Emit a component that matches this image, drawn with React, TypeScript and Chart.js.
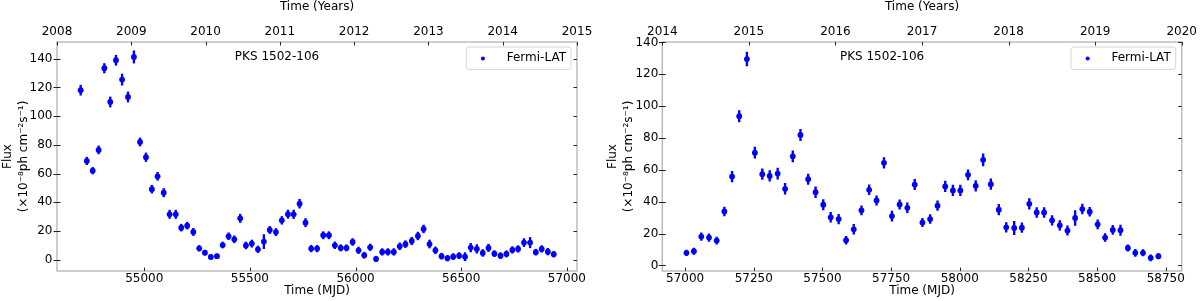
import React, { useEffect, useRef } from "react";
import { Chart, registerables } from "chart.js";

Chart.register(...registerables);

// ---------- texts ----------
const SOURCE_NAME = "PKS 1502-106";
const SERIES_LABEL = "Fermi-LAT";
const X_TITLE = "Time (MJD)";
const TOP_TITLE = "Time (Years)";
const Y_TITLE = ["Flux", "(×10⁻⁸ph cm⁻²s⁻¹)"];

// ---------- left panel data (2008–2014) ----------
const leftMjd = [
  54699, 54728, 54756, 54784, 54811, 54839, 54866, 54895, 54923, 54951,
  54980, 55008, 55036, 55063, 55092, 55120, 55149, 55175, 55203, 55232,
  55260, 55287, 55315, 55344, 55371, 55399, 55426, 55454, 55481, 55509,
  55538, 55566, 55594, 55623, 55651, 55680, 55707, 55735, 55763, 55790,
  55818, 55847, 55874, 55902, 55930, 55957, 55986, 56014, 56041, 56069,
  56097, 56126, 56153, 56181, 56209, 56236, 56266, 56295, 56322, 56350,
  56378, 56407, 56435, 56462, 56490, 56518, 56545, 56574, 56602, 56629,
  56657, 56686, 56714, 56742, 56769, 56797, 56826, 56853, 56881, 56910,
  56938,
];
const leftFlux = [
  118.1, 68.8, 62.0, 76.5, 133.4, 109.9, 139.0, 125.5, 113.4, 141.3,
  82.0, 71.4, 49.1, 58.1, 46.7, 31.6, 31.6, 22.3, 23.7, 19.3,
  7.9, 4.9, 1.9, 2.4, 10.2, 16.3, 14.2, 28.8, 9.9, 11.2,
  7.2, 12.6, 20.7, 19.2, 27.4, 31.7, 31.6, 39.0, 25.8, 7.7,
  7.7, 17.0, 17.0, 10.0, 8.2, 8.2, 12.3, 6.5, 3.1, 8.6,
  0.5, 5.4, 5.4, 5.4, 9.3, 10.8, 13.0, 16.5, 21.4, 10.9,
  6.5, 2.4, 1.0, 2.1, 2.8, 2.1, 8.4, 7.5, 4.7, 8.2,
  4.2, 2.8, 4.0, 6.8, 7.5, 11.9, 11.9, 5.2, 7.5, 5.6,
  3.8,
];
const leftErr = [
  3.5, 2.6, 2.3, 2.8, 3.3, 3.5, 3.5, 3.9, 3.5, 4.3,
  2.8, 3.0, 2.7, 2.8, 2.9, 2.9, 2.9, 2.4, 2.4, 2.5,
  2.0, 1.7, 1.6, 1.5, 2.1, 2.4, 2.4, 2.9, 2.4, 2.5,
  2.3, 4.9, 2.5, 2.5, 2.7, 2.9, 3.0, 3.1, 2.9, 2.3,
  2.3, 2.5, 2.5, 2.4, 2.2, 2.2, 2.4, 2.3, 2.1, 2.3,
  1.9, 2.3, 2.3, 2.3, 2.4, 2.4, 2.6, 2.7, 2.7, 2.8,
  2.4, 2.1, 1.9, 2.1, 2.1, 2.8, 3.0, 3.0, 2.4, 2.6,
  2.1, 2.1, 2.2, 2.3, 2.3, 2.8, 3.6, 2.1, 2.3, 2.3,
  2.0,
];

// ---------- right panel data (2014–2019) ----------
const rightMjd = [
  57005, 57032, 57059, 57087, 57115, 57143, 57171, 57197, 57225, 57254,
  57281, 57308, 57337, 57364, 57392, 57420, 57448, 57475, 57503, 57530,
  57559, 57586, 57614, 57642, 57670, 57697, 57724, 57753, 57781, 57809,
  57836, 57864, 57892, 57919, 57947, 57975, 58002, 58030, 58058, 58085,
  58113, 58142, 58169, 58198, 58226, 58253, 58280, 58307, 58336, 58364,
  58392, 58420, 58446, 58473, 58502, 58529, 58557, 58585, 58612, 58639,
  58667, 58695, 58723,
];
const rightFlux = [
  7.9, 8.9, 18.1, 17.5, 15.6, 33.9, 55.8, 93.7, 129.6, 70.8,
  57.3, 56.2, 57.7, 48.1, 68.5, 81.9, 54.1, 46.0, 38.1, 30.2,
  29.1, 15.8, 22.7, 34.6, 47.5, 40.8, 64.4, 31.0, 38.3, 36.2,
  50.8, 26.9, 29.1, 37.5, 49.6, 47.1, 47.1, 56.9, 50.0, 66.3,
  51.0, 35.0, 23.9, 23.5, 23.7, 38.7, 33.3, 33.3, 28.3, 25.2,
  21.9, 29.8, 35.4, 33.7, 25.8, 17.5, 22.3, 22.1, 11.0, 7.9,
  7.9, 4.8, 5.8,
];
const rightErr = [
  1.7, 2.0, 2.4, 2.4, 2.2, 2.8, 3.3, 3.6, 4.3, 3.5,
  3.3, 3.3, 3.5, 3.4, 3.5, 3.6, 3.3, 3.4, 3.3, 3.1,
  3.0, 2.5, 3.1, 2.9, 3.1, 2.9, 3.3, 3.2, 2.9, 3.1,
  3.3, 2.6, 2.8, 3.0, 3.3, 3.3, 3.3, 3.2, 3.3, 3.75,
  3.3, 3.3, 3.0, 4.2, 3.0, 3.3, 3.1, 3.1, 3.0, 3.0,
  2.9, 4.7, 3.1, 2.8, 2.8, 2.5, 2.8, 3.3, 2.0, 2.2,
  2.0, 1.9, 1.7,
];

// ---------- tick labels ----------
const leftMjdTicks = [55000, 55500, 56000, 56500, 57000];
const leftYearTicks = [2008, 2009, 2010, 2011, 2012, 2013, 2014, 2015];
const rightMjdTicks = [57000, 57250, 57500, 57750, 58000, 58250, 58500, 58750];
const rightYearTicks = [2014, 2015, 2016, 2017, 2018, 2019, 2020];
const fluxTicks = [0, 20, 40, 60, 80, 100, 120, 140];

const BLUE = "#0000ff";
const FONT = "'DejaVu Sans', 'Liberation Sans', sans-serif";

Chart.defaults.font.family = FONT;
Chart.defaults.font.size = 12;
Chart.defaults.color = "#000";

type Panel = {
  mjd: number[];
  flux: number[];
  err: number[];
  mjdTicks: number[];
  yearTicks: number[];
  canvasLeft: number;
  yWidth: number;
  padRight: number;
  xMin: number;
  xMax: number;
  yMin: number;
  yMax: number;
  yTitlePad: number;
  yTickPad: number;
};

const panels: Panel[] = [
  {
    mjd: leftMjd, flux: leftFlux, err: leftErr,
    mjdTicks: leftMjdTicks, yearTicks: leftYearTicks,
    canvasLeft: 0, yWidth: 57, padRight: 23,
    xMin: 54587, xMax: 57048, yMin: -7.9, yMax: 151.7,
    yTitlePad: 0, yTickPad: 4.5,
  },
  {
    mjd: rightMjd, flux: rightFlux, err: rightErr,
    mjdTicks: rightMjdTicks, yearTicks: rightYearTicks,
    canvasLeft: 600, yWidth: 62.3, padRight: 17.3,
    xMin: 56917, xMax: 58808, yMin: -3.5, yMax: 140.3,
    yTitlePad: 5.5, yTickPad: 4,
  },
];

const frameTicksPlugin = {
  id: "frameTicks",
  afterDatasetsDraw(chart: any) {
    const { ctx, chartArea: a, scales } = chart;
    ctx.save();
    ctx.strokeStyle = "#b3b3b3";
    ctx.lineWidth = 1.3;
    ctx.strokeRect(a.left, a.top, a.right - a.left, a.bottom - a.top);
    ctx.strokeStyle = "#222";
    ctx.lineWidth = 1;
    const L = 3.5;
    ctx.beginPath();
    for (const t of scales.y.ticks) {
      const py = Math.round(scales.y.getPixelForValue(t.value)) + 0.5;
      ctx.moveTo(a.left - L, py);
      ctx.lineTo(a.left + L, py);
      ctx.moveTo(a.right - L, py);
      ctx.lineTo(a.right, py);
    }
    for (const t of scales.x.ticks) {
      const px = Math.round(scales.x.getPixelForValue(t.value)) + 0.5;
      ctx.moveTo(px, a.bottom - L);
      ctx.lineTo(px, a.bottom);
    }
    for (const t of scales.xTop.ticks) {
      const px = Math.round(scales.xTop.getPixelForValue(t.value)) + 0.5;
      ctx.moveTo(px, a.top);
      ctx.lineTo(px, a.top + L);
    }
    ctx.stroke();
    ctx.restore();
  },
};

const annotatePlugin = {
  id: "annotate",
  afterDraw(chart: any) {
    const { ctx, chartArea: a } = chart;
    const label = chart.data.datasets[0].label as string;
    ctx.save();
    ctx.font = `12px ${FONT}`;
    // source name
    ctx.fillStyle = "#000";
    ctx.textAlign = "left";
    ctx.textBaseline = "middle";
    ctx.fillText(SOURCE_NAME, a.left + 0.342 * (a.right - a.left), a.top + 15.3);
    // legend box
    const tw = ctx.measureText(label).width;
    const w = tw + 45.5;
    const h = 22.5;
    const x = a.right - 6 - w;
    const y = a.top + 5;
    const r = 3;
    ctx.beginPath();
    ctx.moveTo(x + r, y);
    ctx.lineTo(x + w - r, y);
    ctx.arcTo(x + w, y, x + w, y + r, r);
    ctx.lineTo(x + w, y + h - r);
    ctx.arcTo(x + w, y + h, x + w - r, y + h, r);
    ctx.lineTo(x + r, y + h);
    ctx.arcTo(x, y + h, x, y + h - r, r);
    ctx.lineTo(x, y + r);
    ctx.arcTo(x, y, x + r, y, r);
    ctx.closePath();
    ctx.fillStyle = "rgba(255,255,255,0.8)";
    ctx.fill();
    ctx.strokeStyle = "#d6d6d6";
    ctx.lineWidth = 1;
    ctx.stroke();
    ctx.beginPath();
    ctx.arc(x + 16.7, y + h / 2 + 0.3, 2.0, 0, Math.PI * 2);
    ctx.fillStyle = BLUE;
    ctx.fill();
    ctx.fillStyle = "#000";
    ctx.fillText(label, x + 40.5, y + h / 2 - 0.6);
    ctx.restore();
  },
};

function makeConfig(p: Panel): any {
  const points = p.mjd.map((x, i) => ({ x, y: p.flux[i] }));
  const errBars = p.mjd.map((x, i) => ({ x, y: [p.flux[i] - p.err[i], p.flux[i] + p.err[i]] }));
  const fmt = (v: any) => String(v);
  return {
    type: "scatter",
    data: {
      datasets: [
        {
          type: "scatter",
          label: SERIES_LABEL,
          data: points,
          backgroundColor: BLUE,
          borderColor: BLUE,
          borderWidth: 0,
          pointRadius: 2.9,
          pointHoverRadius: 2.9,
          xAxisID: "x",
          yAxisID: "y",
          order: 0,
        },
        {
          type: "bar",
          label: "error",
          data: errBars,
          backgroundColor: BLUE,
          borderWidth: 0,
          barThickness: 1.7,
          grouped: false,
          xAxisID: "x",
          yAxisID: "y",
          order: 1,
        },
      ],
    },
    options: {
      animation: false,
      responsive: false,
      maintainAspectRatio: false,
      devicePixelRatio: 1,
      events: [],
      layout: { padding: { left: 0, right: p.padRight, top: 0, bottom: 0 } },
      plugins: {
        legend: { display: false },
        tooltip: { enabled: false },
        title: { display: false },
      },
      scales: {
        x: {
          type: "linear",
          position: "bottom",
          min: p.xMin,
          max: p.xMax,
          offset: false,
          grid: { display: false, drawTicks: false },
          border: { display: false },
          ticks: { padding: 0.5, maxRotation: 0, autoSkip: false, callback: fmt, font: { size: 12 } },
          afterBuildTicks: (s: any) => {
            s.ticks = p.mjdTicks.map((v) => ({ value: v }));
          },
          afterFit: (s: any) => {
            s.height = 30;
          },
          title: { display: true, text: X_TITLE, padding: { top: 0, bottom: 2.5 }, font: { size: 12 } },
        },
        xTop: {
          type: "linear",
          axis: "x",
          position: "top",
          min: p.yearTicks[0],
          max: p.yearTicks[p.yearTicks.length - 1],
          offset: false,
          grid: { display: false, drawTicks: false },
          border: { display: false },
          ticks: { padding: 3, maxRotation: 0, autoSkip: false, callback: fmt, font: { size: 12 } },
          afterBuildTicks: (s: any) => {
            s.ticks = p.yearTicks.map((v) => ({ value: v }));
          },
          afterFit: (s: any) => {
            s.height = 42;
          },
          title: { display: true, text: TOP_TITLE, padding: { top: 0.5, bottom: 0 }, font: { size: 12, lineHeight: 1.05 } },
        },
        y: {
          type: "linear",
          position: "left",
          min: p.yMin,
          max: p.yMax,
          grid: { display: false, drawTicks: false },
          border: { display: false },
          ticks: { padding: p.yTickPad, autoSkip: false, callback: fmt, font: { size: 12 } },
          afterBuildTicks: (s: any) => {
            s.ticks = fluxTicks.map((v) => ({ value: v }));
          },
          afterFit: (s: any) => {
            s.width = p.yWidth;
          },
          title: { display: true, text: Y_TITLE, padding: { top: p.yTitlePad, bottom: 0 }, font: { size: 12, lineHeight: 1.3 } },
        },
      },
    },
    plugins: [frameTicksPlugin, annotatePlugin],
  };
}

function PanelChart({ panel }: { panel: Panel }) {
  const ref = useRef<HTMLCanvasElement | null>(null);
  useEffect(() => {
    if (!ref.current) return;
    const chart = new Chart(ref.current, makeConfig(panel));
    return () => chart.destroy();
  }, [panel]);
  return (
    <canvas
      ref={ref}
      width={600}
      height={301}
      style={{ position: "absolute", left: panel.canvasLeft, top: 0, width: 600, height: 301, display: "block" }}
    />
  );
}

export default function App() {
  return (
    <div style={{ position: "fixed", left: 0, top: 0, width: 1200, height: 301, background: "#fff" }}>
      {panels.map((p, i) => (
        <PanelChart key={i} panel={p} />
      ))}
    </div>
  );
}
